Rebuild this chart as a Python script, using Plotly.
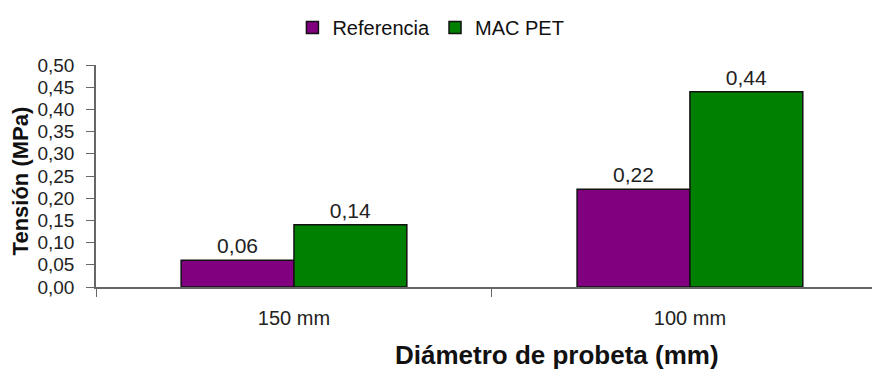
import plotly.graph_objects as go

# Data
categories = ['150 mm', '100 mm']
referencia = [0.06, 0.22]
mac_pet = [0.14, 0.44]
y_ticks = [0.00, 0.05, 0.10, 0.15, 0.20, 0.25, 0.30, 0.35, 0.40, 0.45, 0.50]

font_family = 'Arial, Liberation Sans, sans-serif'

fig = go.Figure()
fig.add_trace(go.Bar(x=categories, y=referencia, name='Referencia',
                     marker=dict(color='#800080', line=dict(color='#111111', width=1.5)),
                     texttemplate='%{y:.2f}', textposition='outside',
                     textfont=dict(size=21, color='#222222'), cliponaxis=False))
fig.add_trace(go.Bar(x=categories, y=mac_pet, name='MAC PET',
                     marker=dict(color='#008000', line=dict(color='#111111', width=1.5)),
                     texttemplate='%{y:.2f}', textposition='outside',
                     textfont=dict(size=21, color='#222222'), cliponaxis=False))

# page body adds an 8px offset, so the figure is sized to the visible area
fig.update_layout(
    width=872, height=364,
    margin=dict(l=88, r=0, t=57, b=85, autoexpand=False),
    paper_bgcolor='white', plot_bgcolor='white',
    font=dict(family=font_family, size=16, color='#222222'),
    separators=',.',
    barmode='group', bargap=0.43, bargroupgap=0,
    showlegend=True,
    legend=dict(orientation='h', xref='container', yref='container',
                x=0.485, y=1.0, xanchor='center', yanchor='top',
                font=dict(size=20, color='#111111'), itemwidth=30,
                traceorder='normal', tracegroupgap=0),
    xaxis=dict(range=[-0.5, 1.48], showline=True, linecolor='#666666', linewidth=1.5,
               ticks='outside', tickson='boundaries', ticklen=8, tickcolor='#666666',
               tickfont=dict(size=20, color='#222222'), showgrid=False, zeroline=False,
               ticklabelstandoff=12),
    yaxis=dict(range=[0, 0.5], tickvals=y_ticks, tickformat='.2f', showline=True,
               linecolor='#666666', linewidth=1.5, ticks='outside', ticklen=8,
               tickcolor='#666666', tickfont=dict(size=19, color='#222222'),
               showgrid=False, zeroline=False, ticklabelstandoff=8),
    annotations=[
        dict(text='<b>Diámetro de probeta (mm)</b>', xref='paper', yref='paper',
             x=0.588, y=-0.306, xanchor='center', yanchor='middle', showarrow=False,
             font=dict(size=26, color='#111111')),
        dict(text='<b>Tensión (MPa)</b>', xref='paper', yref='paper',
             x=-0.097, y=0.48, xanchor='center', yanchor='middle', showarrow=False,
             textangle=-90, font=dict(size=22, color='#111111')),
    ],
)

fig.write_html('out.html')
